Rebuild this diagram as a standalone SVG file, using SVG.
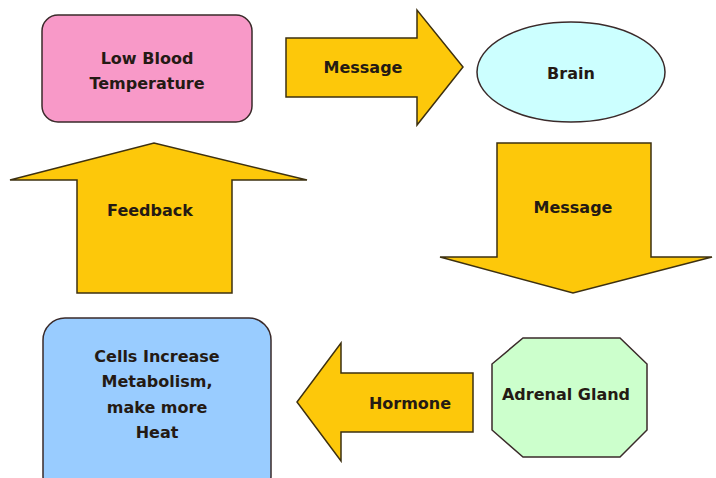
<svg xmlns="http://www.w3.org/2000/svg" width="716" height="478" viewBox="0 0 716 478">
<style>
.arrow{fill:#fdc80a;stroke:#3d3010;stroke-width:1.5;stroke-linejoin:miter}
.node{stroke:#3a2a2a;stroke-width:1.5}
text{font-family:"DejaVu Sans","Liberation Sans",sans-serif;font-weight:bold;font-size:16px;fill:#241a14;text-anchor:middle;dominant-baseline:central}
</style>
<rect width="716" height="478" fill="#ffffff"/>
<g id="connectors">
<g id="arrow-message-1">
<polygon class="arrow" points="286,38 417,38 417,10 463,67 417,125 417,97 286,97"/>
<text x="363" y="67">Message</text>
</g>
<g id="arrow-message-2">
<polygon class="arrow" points="497,143 651,143 651,257 712,257 573,293 440,257 497,257"/>
<text x="573" y="207">Message</text>
</g>
<g id="arrow-hormone">
<polygon class="arrow" points="473,373 341,373 341,343 297,402 341,461 341,432 473,432"/>
<text x="410" y="403">Hormone</text>
</g>
<g id="arrow-feedback">
<polygon class="arrow" points="77,293 77,180 10,180 154,143 307,180 232,180 232,293"/>
<text x="150" y="210">Feedback</text>
</g>
</g>
<g id="node-low-blood">
<rect class="node" x="42" y="15" width="210" height="107" rx="16" fill="#f899c8"/>
<text x="147" y="58">Low Blood</text>
<text x="147" y="83">Temperature</text>
</g>
<g id="node-brain">
<ellipse class="node" cx="571" cy="72" rx="94" ry="50" fill="#ccffff"/>
<text x="571" y="73">Brain</text>
</g>
<g id="node-adrenal">
<polygon class="node" points="523,338 620,338 647,364 647,430 620,457 523,457 492,430 492,364" fill="#ccffcc"/>
<text x="566" y="394">Adrenal Gland</text>
</g>
<g id="node-cells">
<rect class="node" x="43" y="318" width="228" height="180" rx="22" fill="#99ccff"/>
<text x="157" y="356">Cells Increase</text>
<text x="157" y="381">Metabolism,</text>
<text x="157" y="407">make more</text>
<text x="157" y="432">Heat</text>
</g>
</svg>
